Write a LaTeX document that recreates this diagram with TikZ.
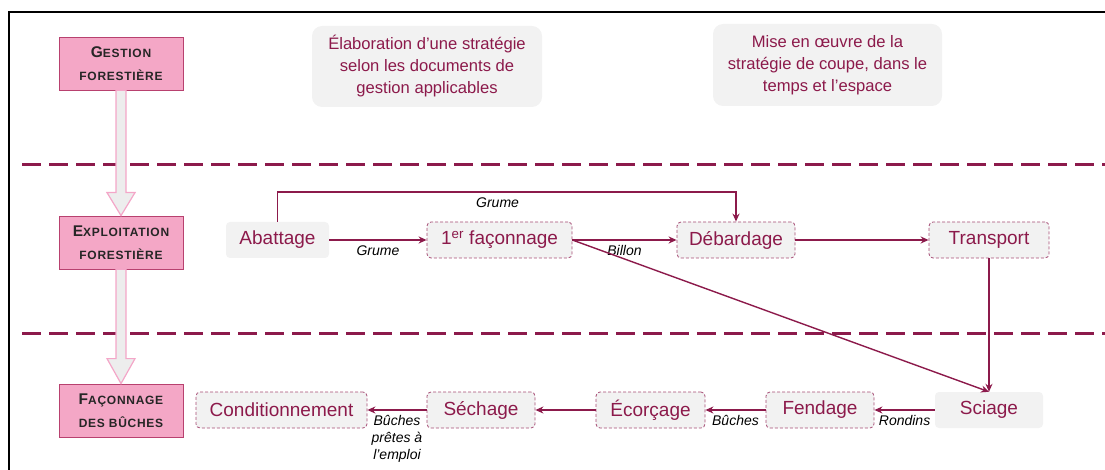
\documentclass[tikz,border=0pt]{standalone}
\usepackage{fontspec}
\setmainfont{Liberation Sans}
\usetikzlibrary{arrows.meta,calc}

\definecolor{wine}{HTML}{8C1A4B}
\definecolor{pinkfill}{HTML}{F4A7C6}
\definecolor{pinkedge}{HTML}{B8416F}
\definecolor{softgray}{HTML}{F2F2F2}
\definecolor{dashedge}{HTML}{A64D75}
\definecolor{darktext}{HTML}{262626}
\definecolor{arrowgray}{HTML}{EDEDED}
\definecolor{arrowpink}{HTML}{F4A6C8}

% first letter large, the rest as small capitals
\newcommand\capword[2]{{\fontsize{15.5}{23}\selectfont #1}{\fontsize{12}{23}\selectfont #2}}

\begin{document}
\begin{tikzpicture}[x=1pt,y=-1pt,
  phase/.style={draw=pinkedge, line width=0.8pt, fill=pinkfill,
    minimum width=124pt, minimum height=53pt, inner sep=0pt, align=center,
    text=darktext, font=\bfseries\addfontfeature{LetterSpace=6}\fontsize{12}{23}\selectfont},
  note/.style={fill=softgray, rounded corners=10pt, minimum width=230pt,
    minimum height=81pt, align=center, text=wine,
    font=\fontsize{16.6}{22}\selectfont},
  task/.style={fill=softgray, rounded corners=4pt, minimum height=36pt,
    inner sep=0pt, text=wine, font=\fontsize{19}{22}\selectfont},
  taskd/.style={task, draw=dashedge, dash pattern=on 3pt off 2pt, line width=0.8pt},
  flow/.style={draw=wine, line width=1.4pt, -{Stealth[length=8pt,width=7pt]}},
  lbl/.style={font=\itshape\fontsize{14}{17}\selectfont, text=black,
    inner sep=1.5pt, align=center, yshift=-3.5pt},
  divider/.style={draw=wine, line width=3pt, dash pattern=on 19pt off 8pt},
  blockarrow/.style={fill=arrowgray, draw=arrowpink, line width=1.2pt, line join=miter}]

\useasboundingbox (0,0) rectangle (1105,470);
\clip (0,0) rectangle (1105,470);

% outer frame
\draw[line width=2pt] (9,480) -- (9,12) -- (1120,12);

% row separators
\draw[divider] (22,165) -- (1110,165);
\draw[divider] (22,333) -- (1110,333);

% phases on the left
\node[phase] (gest) at (121,63.5) {\capword{G}{ESTION}\\FORESTIÈRE};
\node[phase] (expl) at (121,242.5) {\capword{E}{XPLOITATION}\\FORESTIÈRE};
\node[phase] (faco) at (121,410.5) {\capword{F}{AÇONNAGE}\\DES BÛCHES};

% block arrows between phases
\draw[blockarrow] ([xshift=-5pt]gest.south) -- ([xshift=5pt]gest.south)
  -- ([xshift=5pt,yshift=23pt]expl.north) -- ([xshift=14pt,yshift=23pt]expl.north)
  -- (expl.north) -- ([xshift=-14pt,yshift=23pt]expl.north)
  -- ([xshift=-5pt,yshift=23pt]expl.north) -- cycle;
\draw[blockarrow] ([xshift=-5pt]expl.south) -- ([xshift=5pt]expl.south)
  -- ([xshift=5pt,yshift=25pt]faco.north) -- ([xshift=14pt,yshift=25pt]faco.north)
  -- (faco.north) -- ([xshift=-14pt,yshift=25pt]faco.north)
  -- ([xshift=-5pt,yshift=25pt]faco.north) -- cycle;

% notes of the first row
\node[note] (strat) at (427,66.5) {Élaboration d’une stratégie\\selon les documents de\\gestion applicables};
\node[note, minimum width=229pt, minimum height=82pt] (mise) at (827.5,65) {Mise en œuvre de la\\stratégie de coupe, dans le\\temps et l’espace};

% operations
\node[task,  minimum width=103pt] (abat) at (277.5,240) {Abattage};
\node[taskd, minimum width=145pt] (fac)  at (499.5,240) {1\textsuperscript{er} façonnage};
\node[taskd, minimum width=118pt] (deb)  at (736,240) {Débardage};
\node[taskd, minimum width=120pt] (tra)  at (989,240) {Transport};
\node[task,  minimum width=108pt] (sci)  at (989,410) {Sciage};
\node[taskd, minimum width=108pt] (fen)  at (820,410) {Fendage};
\node[taskd, minimum width=109pt] (eco)  at (650.5,410) {Écorçage};
\node[taskd, minimum width=108pt] (sec)  at (481,410) {Séchage};
\node[taskd, minimum width=171pt] (con)  at (281.5,410) {Conditionnement};

% flows
\coordinate (topy) at (0,192);
\draw[flow] (abat.north) -- (abat.north |- topy)
  -- node[lbl, below, pos=0.48] {Grume} (deb.north |- topy) -- (deb.north);
\draw[flow] (abat) -- node[lbl, below] {Grume} (fac);
\draw[flow] (fac) -- node[lbl, below] {Billon} (deb);
\draw[flow] (fac.east) -- (sci.north);
\draw[flow] (deb) -- (tra);
\draw[flow] (tra.south) -- (sci.north);
\draw[flow] (sci) -- node[lbl, below] {Rondins} (fen);
\draw[flow] (fen) -- node[lbl, below] {Bûches} (eco);
\draw[flow] (eco) -- (sec);
\draw[flow] (sec) -- node[lbl, below] {Bûches\\prêtes à\\l’emploi} (con);

\end{tikzpicture}
\end{document}
